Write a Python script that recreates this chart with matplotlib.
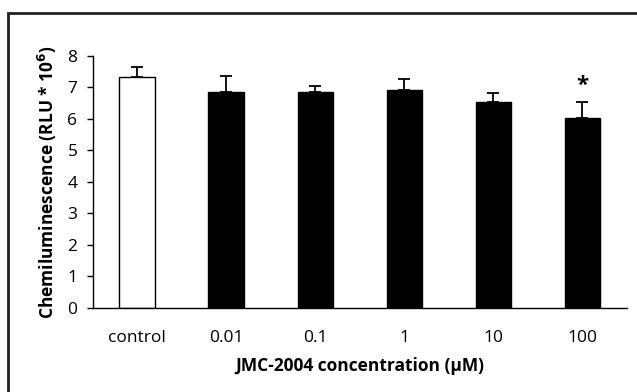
import matplotlib
matplotlib.use('Agg')

import matplotlib.pyplot as plt
from matplotlib.patches import Rectangle

plt.rcParams['font.family'] = ['Open Sans', 'DejaVu Sans']

# data
categories = ['control', '0.01', '0.1', '1', '10', '100']
values = [7.32, 6.87, 6.87, 6.92, 6.55, 6.04]
errors = [0.34, 0.50, 0.19, 0.35, 0.27, 0.50]
colors = ['white', 'black', 'black', 'black', 'black', 'black']
significant = [False, False, False, False, False, True]

fig = plt.figure(figsize=(6.37, 3.92), dpi=100, facecolor='white')
ax = fig.add_axes([0.1455, 0.2143, 0.8388, 0.6429])

x = range(len(categories))
ax.bar(x, values, width=0.4, color=colors, edgecolor='black', linewidth=1.0,
       yerr=[[0] * len(errors), errors],
       error_kw=dict(ecolor='black', elinewidth=1.3, capsize=4.3, capthick=1.3))

for i, sig in enumerate(significant):
    if sig:
        ax.text(i, values[i] + errors[i] + 0.2, '*', ha='center', va='bottom',
                fontsize=16, fontweight='bold')

ax.set_xlim(-0.5, len(categories) - 0.5)
ax.set_ylim(0, 8)
ax.set_yticks(range(0, 9))
ax.set_xticks(list(x))
ax.set_xticklabels(categories)
ax.tick_params(axis='x', length=0, pad=16, labelsize=12.5)
ax.tick_params(axis='y', length=4, width=1, pad=7, labelsize=12.5, direction='out')

ax.spines['top'].set_visible(False)
ax.spines['right'].set_visible(False)
ax.spines['left'].set_linewidth(1)
ax.spines['bottom'].set_linewidth(1)

ax.set_xlabel('JMC-2004 concentration (µM)', fontsize=12.5, fontweight='bold', labelpad=8)
ax.set_ylabel('Chemiluminescence (RLU * 10$^{\\mathbf{6}}$)', fontsize=12.5,
              fontweight='bold', labelpad=6)

# outer frame
fig.patches.append(Rectangle((7.5 / 637, -0.05), 1.0, 1 - 12.5 / 392 + 0.05,
                             transform=fig.transFigure, fill=False,
                             edgecolor='#222222', linewidth=2))

fig.savefig('out.png', dpi=100, facecolor='white')
